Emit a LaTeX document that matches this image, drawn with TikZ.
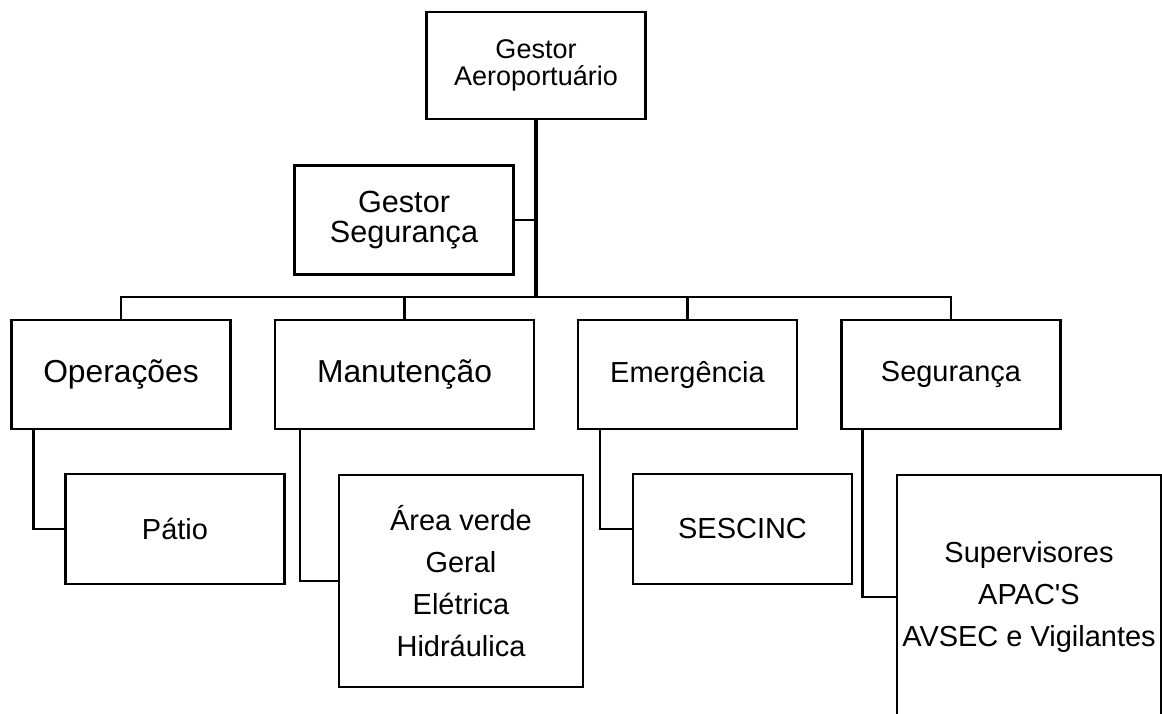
\documentclass[tikz,border=0pt]{standalone}
\usepackage{fontspec}
\setmainfont{Liberation Sans}[Ligatures=TeXOff]

\begin{document}
\begin{tikzpicture}[
  x=0.025cm, y=-0.025cm,
  line width=1.6pt,
  box/.style={draw, line width=1.7pt, inner sep=0pt, align=center, minimum width=5.47cm, minimum height=2.72cm},
  topfont/.style={font=\fontsize{19.2}{19.4}\selectfont},
  gsfont/.style={font=\fontsize{21.8}{21.4}\selectfont},
  bigfont/.style={font=\fontsize{22.6}{26}\selectfont},
  subfont/.style={font=\fontsize{20.6}{29.9}\selectfont}
]
\useasboundingbox (0,0) rectangle (1162,713);

% direcao
\node[box, topfont, minimum height=2.675cm] (ga) at (536,65.5) {Gestor\\Aeroportuário};
\node[box, gsfont] (gs) at (404,220) {Gestor\\Segurança};

% setores
\node[box, bigfont] (op) at (121,374.5) {Operações};
\node[box, bigfont, minimum width=6.475cm] (ma) at (404.5,374.5) {Manutenção};
\node[box, subfont] (em) at (687.5,374.5) {Emergência};
\node[box, subfont] (se) at (951,374.5) {Segurança};

% equipes
\node[box, subfont, minimum height=2.75cm] (pa) at (175,529) {Pátio};
\node[box, subfont, minimum width=6.1cm, minimum height=5.3cm] (av) at (461,581) {Área verde\\Geral\\Elétrica\\Hidráulica};
\node[box, subfont, minimum height=2.75cm] (sc) at (742.5,529) {SESCINC};
\node[box, subfont, minimum width=6.6cm, minimum height=6.1cm] (sv) at (1029,597) {Supervisores\\APAC'S\\AVSEC e Vigilantes};

% ligacoes
\coordinate (bus) at (536,297);
\draw[line width=2.2pt] (ga.south) -- (bus);
\draw (gs.east) -- (gs.east -| bus);
\draw[line width=1.9pt] (op.north) |- (bus) -| (se.north);
\draw (ma.north) -- (ma.north |- bus);
\draw (em.north) -- (em.north |- bus);

\draw (op.south west) ++(23,0) |- (pa.west);
\draw (ma.south west) ++(26,0) |- (av.west);
\draw (em.south west) ++(23,0) |- (sc.west);
\draw (se.south west) ++(22,0) |- (sv.west);
\end{tikzpicture}
\end{document}
